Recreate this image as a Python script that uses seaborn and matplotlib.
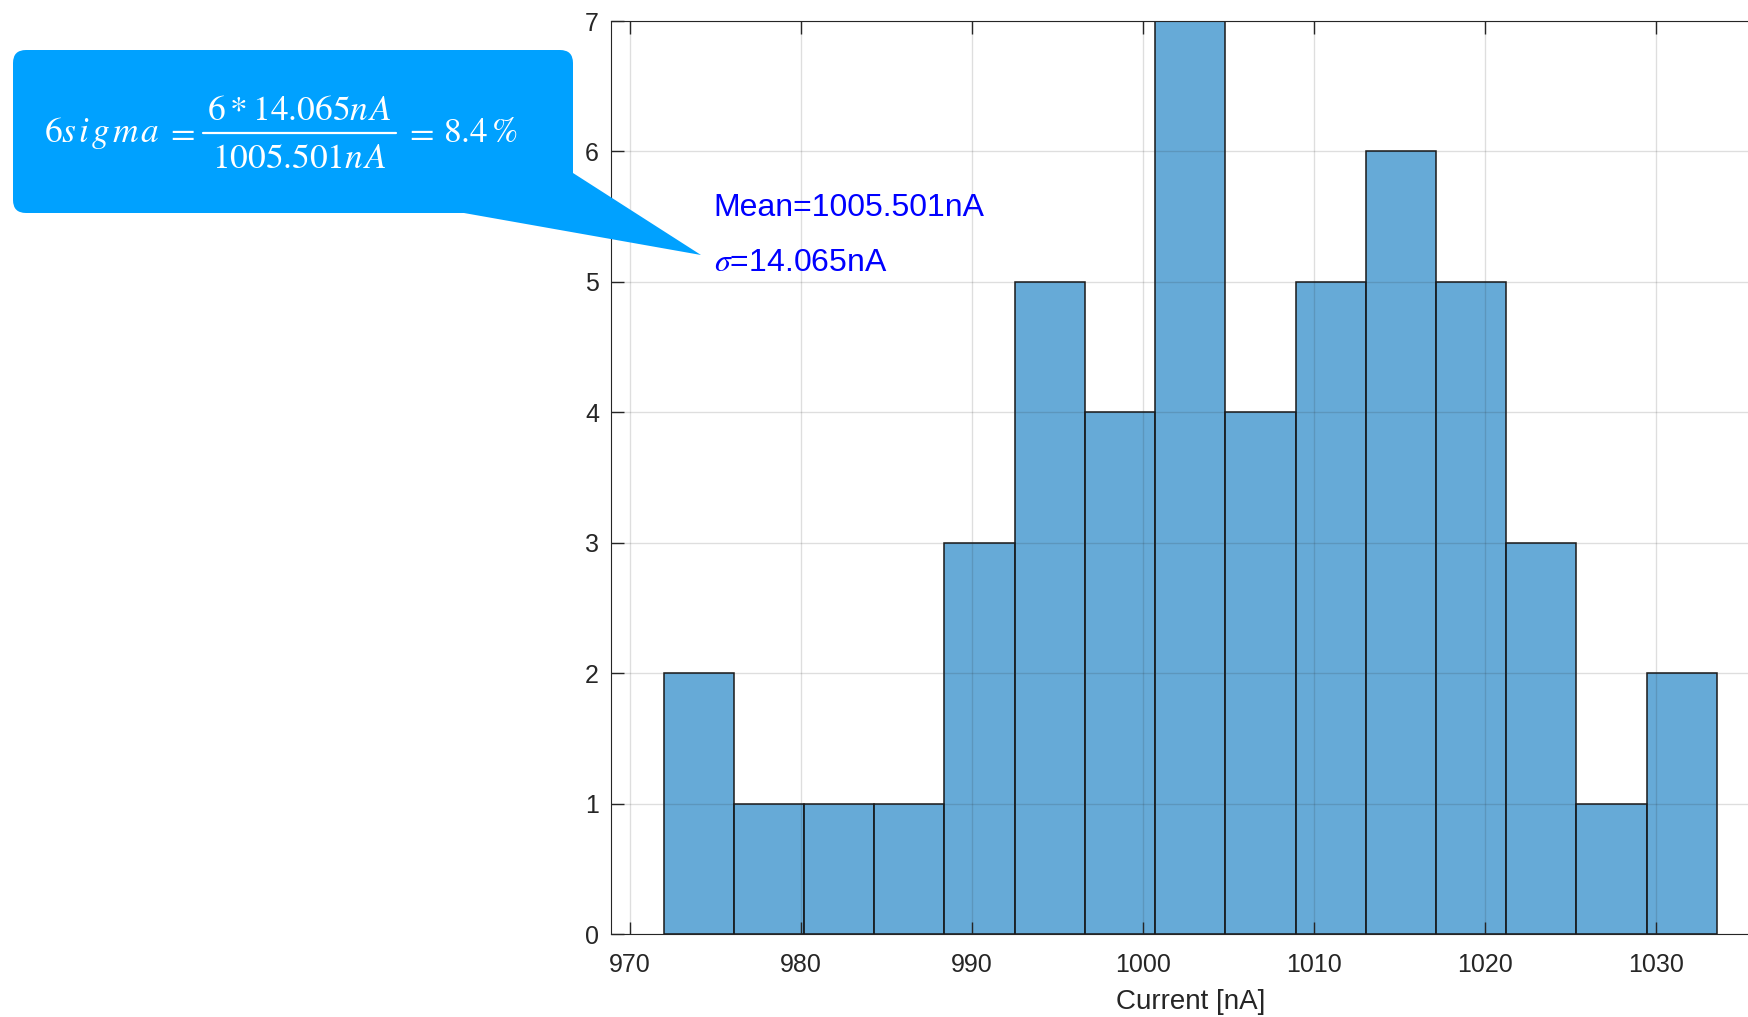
import matplotlib
matplotlib.use("Agg")
import matplotlib.pyplot as plt
from matplotlib.patches import FancyBboxPatch, Polygon
from matplotlib.lines import Line2D
from matplotlib.transforms import IdentityTransform
import seaborn as sns
import pandas as pd

# ---- data ----
bin_edges = [971.98, 976.08, 980.19, 984.29, 988.39, 992.50, 996.60, 1000.70,
             1004.81, 1008.91, 1013.01, 1017.12, 1021.22, 1025.32, 1029.43, 1033.53]
counts = [2, 1, 1, 1, 3, 5, 4, 7, 4, 5, 6, 5, 3, 1, 2]
x_ticks = [970, 980, 990, 1000, 1010, 1020, 1030]
y_ticks = [0, 1, 2, 3, 4, 5, 6, 7]
x_label = "Current [nA]"
mean_label = "Mean=1005.501nA"
sigma_label = r"$\sigma$=14.065nA"
# formula pieces: 6sigma = (6*14.065nA)/(1005.501nA) = 8.4%
f_lhs = r"$6s\hspace{0.12}i\hspace{0.12}g\hspace{0.12}m\hspace{0.12}a$"
f_eq = r"$=$"
f_num = r"$6*14.065n\hspace{0.08}A$"
f_den = r"$1005.501n\hspace{0.08}A$"
f_rhs = r"$8.4\hspace{0.15}\%$"

centers = [(a + b) / 2 for a, b in zip(bin_edges[:-1], bin_edges[1:])]
df = pd.DataFrame({"current": centers, "count": counts})

sns.set_theme(style="white")
plt.rcParams["font.family"] = ["Liberation Sans", "DejaVu Sans"]
plt.rcParams["mathtext.fontset"] = "stix"

W, H = 1749, 1017
fig = plt.figure(figsize=(W / 100, H / 100), dpi=100)


def fx(px):
    return px / W


def fy(py):
    return 1 - py / H


ax = fig.add_axes([fx(611), fy(934), fx(1770) - fx(611), fy(21) - fy(934)])

sns.histplot(data=df, x="current", weights="count", bins=bin_edges,
             color=(0, 0.447, 0.741), alpha=0.6, edgecolor="#1a1a1a",
             linewidth=1.1, ax=ax)

ax.set_xlim(968.907, 1036.64)
ax.set_ylim(0, 7)
ax.set_xticks(x_ticks)
ax.set_yticks(y_ticks)
ax.set_ylabel("")
ax.set_xlabel(x_label, fontsize=20, color="#262626", labelpad=8.5)

ax.grid(True, color="#262626", alpha=0.15, linewidth=1.0)
ax.set_axisbelow(False)

ax.tick_params(axis="both", direction="in", length=9, width=1.0,
               color="#262626", labelsize=18, labelcolor="#262626")
ax.tick_params(axis="x", bottom=True, top=True, pad=13.5)
ax.tick_params(axis="y", left=True, right=True, pad=8.6)
for s in ax.spines.values():
    s.set_visible(True)
    s.set_color("#262626")
    s.set_linewidth(0.8)

ax.text(974.9, 5.565, mean_label, color="blue", fontsize=23,
        ha="left", va="center")
ax.text(974.9, 5.143, sigma_label, color="blue", fontsize=23,
        ha="left", va="center")

# ---- callout bubble (pixel coordinates, top-down) ----
callout_color = "#00A1FF"
box = FancyBboxPatch((13, H - 213), 573 - 13, 213 - 50,
                     boxstyle="round,pad=0,rounding_size=13",
                     transform=IdentityTransform(), facecolor=callout_color,
                     edgecolor="none")
tail = Polygon([(573, H - 173), (701, H - 255), (464, H - 213), (464, H - 173)],
               closed=True, transform=IdentityTransform(),
               facecolor=callout_color, edgecolor="none")
fig.add_artist(box)
fig.add_artist(tail)

fs = 25.5
tk = dict(color="white", fontsize=fs, va="baseline")
fig.text(fx(44), fy(141.7), f_lhs, ha="left", **tk)
fig.text(fx(180), fy(141.7), f_eq, ha="center", **tk)
fig.text(fx(299.6), fy(120), f_num, ha="center", **tk)
fig.text(fx(299.6), fy(168.3), f_den, ha="center", **tk)
fig.add_artist(Line2D([203, 396], [H - 133, H - 133], color="white",
                      linewidth=1.6, transform=IdentityTransform()))
fig.text(fx(419), fy(141.7), f_eq, ha="center", **tk)
fig.text(fx(443), fy(141.7), f_rhs, ha="left", **tk)

fig.savefig("out.png", dpi=100)
